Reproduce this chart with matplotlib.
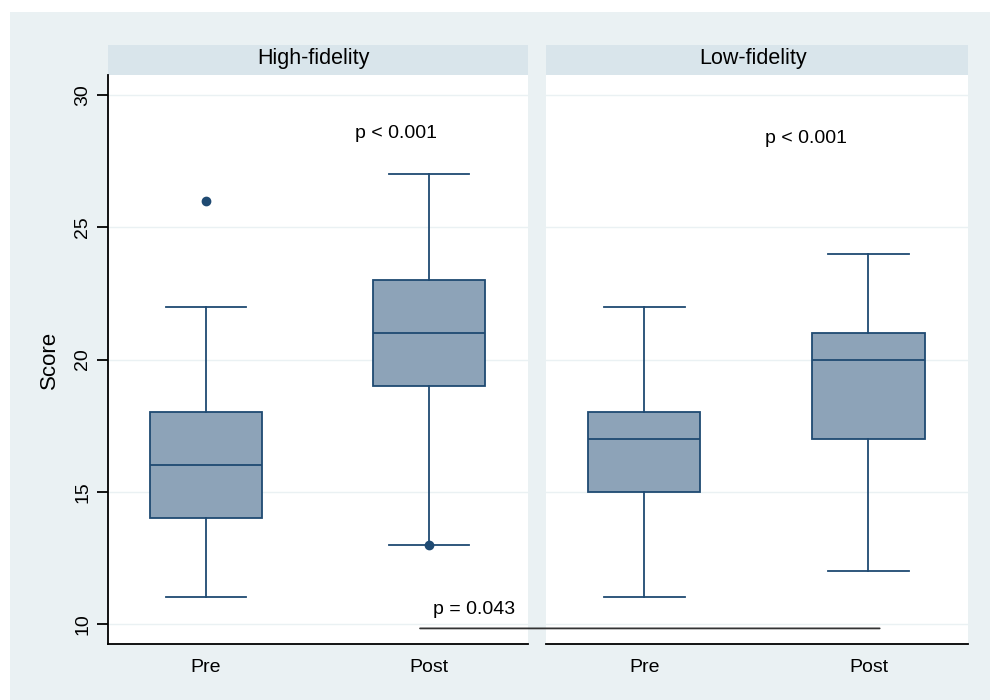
import matplotlib.pyplot as plt
from matplotlib.patches import Rectangle, ConnectionPatch

# data
panels = ["High-fidelity", "Low-fidelity"]
groups = ["Pre", "Post"]
# (whisker low, q1, median, q3, whisker high)
hf_stats = [(11, 14, 16, 18, 22), (13, 19, 21, 23, 27)]
lf_stats = [(11, 15, 17, 18, 22), (12, 17, 20, 21, 24)]
hf_outliers = [[26], [13]]
lf_outliers = [[], []]
p_within = ["p < 0.001", "p < 0.001"]
p_within_x = [1.85, 1.72]
p_within_y = [28.55, 28.35]
p_between = "p = 0.043"

bg = "#eaf1f3"
strip = "#d9e5eb"
fill = "#8da3b8"
edge = "#1f4a72"

plt.rcParams["font.family"] = ["Liberation Sans", "DejaVu Sans"]

fig = plt.figure(figsize=(9.9, 7), dpi=100, facecolor="white")
fig.patches.append(Rectangle((10 / 990, 0), 1, 688 / 700, transform=fig.transFigure,
                             facecolor=bg, edgecolor="none", zorder=-10))

ax1 = fig.add_axes([108 / 990, 56 / 700, 420 / 990, 569 / 700])
ax2 = fig.add_axes([546 / 990, 56 / 700, 422 / 990, 569 / 700])


def make_stats(stats, outliers):
    out = []
    for (lo, q1, med, q3, hi), fl in zip(stats, outliers):
        out.append(dict(whislo=lo, q1=q1, med=med, q3=q3, whishi=hi, fliers=fl))
    return out


for ax, title, stats, outl, ptxt, px, py in zip(
        [ax1, ax2], panels, [hf_stats, lf_stats], [hf_outliers, lf_outliers],
        p_within, p_within_x, p_within_y):
    ax.set_facecolor("white")
    ax.bxp(make_stats(stats, outl), positions=[1, 2], widths=0.5, patch_artist=True,
           boxprops=dict(facecolor=fill, edgecolor=edge, linewidth=1.3),
           medianprops=dict(color=edge, linewidth=1.3),
           whiskerprops=dict(color=edge, linewidth=1.3),
           capprops=dict(color=edge, linewidth=1.3),
           capwidths=0.36,
           flierprops=dict(marker="o", markersize=6, markerfacecolor=edge,
                           markeredgecolor=edge))
    ax.set_xlim(0.561, 2.444)
    ax.set_ylim(9.24, 30.76)
    ax.set_yticks([10, 15, 20, 25, 30])
    ax.set_xticks([1, 2])
    ax.set_xticklabels(groups, fontsize=14)
    ax.tick_params(axis="x", length=0, pad=11)
    ax.grid(axis="y", color="#eaf1f3", linewidth=1)
    ax.set_axisbelow(True)
    for s in ["top", "right"]:
        ax.spines[s].set_visible(False)
    ax.spines["bottom"].set_linewidth(1.3)
    ax.text(px, py, ptxt, fontsize=14, ha="center", va="center")
    # header strip
    ax.add_patch(Rectangle((0, 1), 1, 30 / 569, transform=ax.transAxes,
                           facecolor=strip, edgecolor="none", clip_on=False))
    ax.text(0.49, 1 + 17 / 569, title, transform=ax.transAxes, ha="center",
            va="center", fontsize=15.5)

ax1.spines["left"].set_linewidth(1.3)
ax1.tick_params(axis="y", length=8, width=1.3, labelsize=14, pad=4)
for lbl in ax1.get_yticklabels():
    lbl.set_rotation(90)
    lbl.set_va("center")
ax1.set_ylabel("Score", fontsize=16, labelpad=10)

ax2.spines["left"].set_visible(False)
ax2.tick_params(axis="y", left=False, labelleft=False)

# between-group comparison
ax1.text(2.2, 10.53, p_between, fontsize=14, ha="center", va="center")
line = ConnectionPatch(xyA=(1.96, 9.83), coordsA="data", axesA=ax1,
                       xyB=(2.05, 9.83), coordsB="data", axesB=ax2,
                       color="#333333", linewidth=1.3)
fig.add_artist(line)

fig.savefig("out.png", dpi=100, facecolor=fig.get_facecolor())
